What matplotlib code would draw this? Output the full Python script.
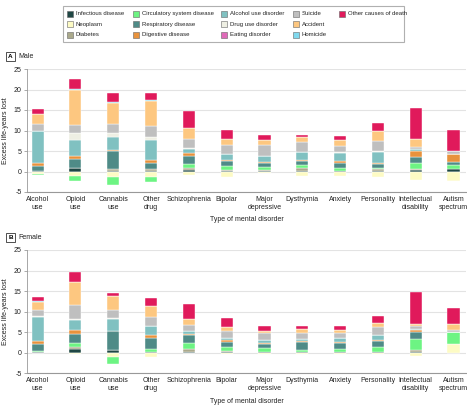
import matplotlib
matplotlib.use('Agg')
import matplotlib.pyplot as plt
from matplotlib.patches import Rectangle
import numpy as np

plt.rcParams['font.family'] = ['Liberation Sans', 'DejaVu Sans']
plt.rcParams['axes.unicode_minus'] = False

disorders = ['Alcohol\nuse', 'Opioid\nuse', 'Cannabis\nuse', 'Other\ndrug', 'Schizophrenia',
             'Bipolar', 'Major\ndepressive', 'Dysthymia', 'Anxiety', 'Personality',
             'Intellectual\ndisability', 'Autism\nspectrum']

causes = ['Infectious disease', 'Neoplasm', 'Diabetes', 'Circulatory system disease',
          'Respiratory disease', 'Digestive disease', 'Alcohol use disorder',
          'Drug use disorder', 'Eating disorder', 'Suicide', 'Accident', 'Homicide',
          'Other causes of death']
cause_colors = ['#1f4744', '#fdfbc4', '#aaa98b', '#6df483', '#4f8b87', '#e8923c',
                '#80c1c1', '#eeefe3', '#e06ab9', '#bfbfbf', '#fdc780', '#80d9ee',
                '#e01a5b']

# male values, one list per cause (order of disorders above)
male_infectious = [0.1, 0.8, 0.2, 0.15, 0.3, 0.15, 0.1, 0.15, 0.1, 0.15, 0.3, 0.7]
male_neoplasm = [-0.5, -1.05, -1.3, -1.4, -0.8, -1.3, -0.4, -1.2, -1.2, -1.3, -2.0, -2.2]
male_diabetes = [0.1, 0.15, 0.4, 0.35, 0.5, 0.3, 0.3, 0.6, 0.1, 0.4, 0.3, -0.2]
male_circulatory = [-0.3, -1.25, -1.9, -1.2, 1.0, 1.0, 0.8, 0.8, 0.65, 0.4, 1.4, 0.8]
male_respiratory = [1.1, 2.15, 4.5, 1.6, 2.0, 1.0, 0.8, 1.1, 1.3, 0.8, 1.5, 0.7]
male_digestive = [0.7, 0.7, 0.1, 0.6, 0.7, 0.3, 0.3, 0.25, 0.3, 0.3, 1.5, 2.0]
male_alcohol_ud = [7.8, 3.8, 3.3, 5.0, 1.0, 1.4, 1.45, 1.75, 2.1, 2.65, 0.4, 0.0]
male_drug_ud = [0.2, 1.8, 1.0, 0.8, 0.3, 0.15, 0.15, 0.05, 0.2, 0.3, 0.2, 0.0]
male_eating = [0.0] * 12
male_suicide = [1.5, 1.9, 2.2, 2.5, 2.2, 2.1, 2.6, 2.4, 1.55, 2.4, 0.3, 0.8]
male_accident = [2.5, 8.6, 5.1, 6.3, 2.5, 1.5, 1.1, 1.3, 1.3, 2.4, 1.95, 0.0]
male_homicide = [0.05, 0.3, 0.2, 0.2, 0.05, 0.05, 0.05, 0.05, 0.05, 0.2, 0.1, 0.0]
male_other = [1.2, 2.3, 2.1, 1.7, 4.1, 2.2, 1.3, 0.5, 1.1, 1.9, 7.65, 5.2]

# female values
female_infectious = [0.2, 1.0, 0.75, 0.3, 0.3, 0.15, 0.1, 0.15, 0.1, 0.15, 0.25, 0.0]
female_neoplasm = [-0.1, -0.4, -1.05, -1.1, -0.15, -0.3, -0.2, -0.3, -0.2, -0.3, -0.7, 2.2]
female_diabetes = [0.0, 0.3, 0.0, 0.0, 0.55, 0.3, 0.15, 0.0, 0.15, 0.15, 0.3, 0.0]
female_circulatory = [0.3, 1.05, -1.7, 0.65, 1.55, 0.95, 0.95, 0.55, 0.55, 1.0, 2.85, 2.8]
female_respiratory = [1.6, 2.25, 4.5, 2.75, 1.95, 1.3, 0.9, 1.8, 1.6, 1.45, 1.7, 0.0]
female_digestive = [0.7, 0.9, 0.0, 0.65, 0.3, 0.3, 0.25, 0.25, 0.25, 0.3, 0.4, 0.0]
female_alcohol_ud = [5.9, 2.5, 3.0, 2.1, 0.65, 0.65, 0.8, 0.7, 1.0, 1.3, 0.3, 0.0]
female_drug_ud = [0.15, 0.2, 0.1, 0.05, 0.05, 0.05, 0.0, 0.0, 0.0, 0.0, 0.0, 0.0]
female_eating = [0.0] * 12
female_suicide = [1.5, 3.45, 1.95, 2.1, 1.45, 1.6, 1.55, 1.45, 1.15, 1.8, 0.6, 0.65]
female_accident = [2.0, 5.6, 3.55, 2.8, 1.45, 0.95, 0.65, 0.9, 0.65, 1.2, 0.55, 1.4]
female_homicide = [0.15, 0.0, 0.0, 0.0, 0.0, 0.05, 0.0, 0.0, 0.0, 0.0, 0.0, 0.0]
female_other = [1.0, 2.35, 0.75, 1.8, 3.5, 2.2, 1.15, 0.75, 1.05, 1.55, 7.85, 3.85]

male_vals = [male_infectious, male_neoplasm, male_diabetes, male_circulatory,
             male_respiratory, male_digestive, male_alcohol_ud, male_drug_ud,
             male_eating, male_suicide, male_accident, male_homicide, male_other]
female_vals = [female_infectious, female_neoplasm, female_diabetes, female_circulatory,
               female_respiratory, female_digestive, female_alcohol_ud, female_drug_ud,
               female_eating, female_suicide, female_accident, female_homicide, female_other]

FS = 5


def draw_panel(ax, vals):
    x = np.arange(len(disorders))
    pos = np.zeros(len(disorders))
    neg = np.zeros(len(disorders))
    for i, row in enumerate(vals):
        v = np.array(row)
        bottom = np.where(v >= 0, pos, neg)
        ax.bar(x, v, width=0.32, bottom=bottom, color=cause_colors[i],
               edgecolor='white', linewidth=0.3, zorder=3)
        pos = pos + np.where(v > 0, v, 0)
        neg = neg + np.where(v < 0, v, 0)
    ax.set_xlim(-0.28, 11.33)
    ax.set_ylim(-5, 25)
    ax.set_yticks([-5, 0, 5, 10, 15, 20, 25])
    ax.set_xticks(x)
    ax.set_xticklabels(disorders, fontsize=FS, linespacing=1.15, color='#222222')
    ax.tick_params(axis='x', length=0, pad=3)
    ax.tick_params(axis='y', length=2, width=0.5, color='#888888', labelsize=FS,
                   pad=2, labelcolor='#222222')
    ax.grid(axis='y', color='#e3e3e3', linewidth=0.8, zorder=0)
    for s in ['top', 'right']:
        ax.spines[s].set_visible(False)
    ax.spines['left'].set_color('#999999')
    ax.spines['left'].set_linewidth(0.6)
    ax.spines['bottom'].set_color('#999999')
    ax.spines['bottom'].set_linewidth(0.8)
    ax.set_ylabel('Excess life-years lost', fontsize=FS, labelpad=3, color='#222222')
    ax.set_xlabel('Type of mental disorder', fontsize=FS, labelpad=4, color='#222222')


fig = plt.figure(figsize=(4.67, 4.05), dpi=100)
W, H = 467.0, 405.0

ax1 = fig.add_axes([27 / W, 1 - 192 / H, 439 / W, 123 / H])
draw_panel(ax1, male_vals)
ax2 = fig.add_axes([27 / W, 1 - 373.3 / H, 439 / W, 123.3 / H])
draw_panel(ax2, female_vals)

# panel labels
for letter, name, ypx in [('A', 'Male', 56.5), ('B', 'Female', 237.5)]:
    fig.text(10.5 / W, 1 - ypx / H, letter, fontsize=4.6, fontweight='bold',
             ha='center', va='center',
             bbox=dict(boxstyle='square,pad=0.3', fc='white', ec='#333333', lw=0.6))
    fig.text(18.5 / W, 1 - ypx / H, name, fontsize=FS, ha='left', va='center', color='#222222')

# legend, drawn by hand to keep the column layout
fig.patches.append(Rectangle((63 / W, 1 - 42 / H), 341 / W, 36 / H, transform=fig.transFigure,
                             fc='white', ec='#b0b0b0', lw=0.8))
col_x = [67, 133, 221, 293, 339]
row_y = [13.7, 24.3, 34.7]
for i, (lab, col) in enumerate(zip(causes, cause_colors)):
    c, r = divmod(i, 3)
    xs, ys = col_x[c], row_y[r]
    fig.patches.append(Rectangle((xs / W, 1 - (ys + 3) / H), 6 / W, 6 / H,
                                 transform=fig.transFigure, fc=col, ec='#666666', lw=0.4))
    fig.text((xs + 9) / W, 1 - ys / H, lab, fontsize=4.3, ha='left', va='center', color='#222222')

fig.savefig('out.png', dpi=100)
